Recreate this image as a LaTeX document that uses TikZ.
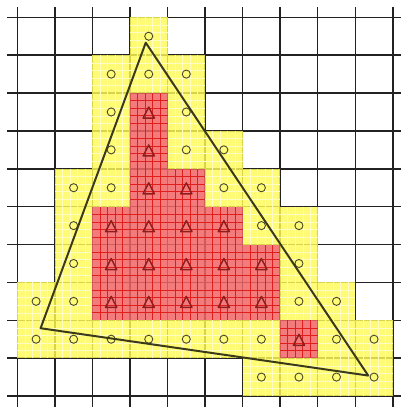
\documentclass[tikz,border=0pt]{standalone}
\usepackage{tikz}
\definecolor{Ink}{HTML}{222222}
\definecolor{Lemon}{HTML}{FFFA55}
\definecolor{Coral}{HTML}{F26464}
\definecolor{Crimson}{HTML}{E01E1E}
\definecolor{Maroon}{HTML}{8C1E1E}
\definecolor{Olive}{HTML}{4C4A22}
\definecolor{Edge}{HTML}{3A3A1A}

\begin{document}
\begin{tikzpicture}[x=1cm,y=-1.0085cm,
    gridline/.style={Ink,line width=1.1pt},
    coverbox/.style={fill=Lemon,fill opacity=.82},
    hitbox/.style={fill=Coral,fill opacity=.85},
    covertex/.style={Lemon!35!white,line width=.3pt},
    hittex/.style={Crimson,line width=.45pt},
    dotmark/.style={Olive,line width=.7pt},
    tipmark/.style={Maroon,line width=1.1pt,line join=round}]
    \useasboundingbox (-0.461,-0.457) rectangle (10.218,10.29);
    % pixel grid
    \foreach \i in {0,...,10} {
      \draw[gridline] (\i,-0.27) -- (\i,10.29);
      \draw[gridline] (-0.27,\i) -- (10.218,\i);
    }
    % cells touched by the triangle
    \foreach \c/\r in {3/0,2/1,3/1,4/1,2/2,4/2,2/3,4/3,5/3,1/4,2/4,5/4,6/4,
                       1/5,6/5,7/5,1/6,7/6,0/7,1/7,7/7,8/7,
                       0/8,1/8,2/8,3/8,4/8,5/8,6/8,8/8,9/8,6/9,7/9,8/9,9/9} {
      \fill[coverbox] (\c,\r) rectangle ++(1,1);
      \foreach \k in {0.2,0.4,0.6,0.8} {
        \draw[covertex] (\c+\k,\r) -- ++(0,1);
        \draw[covertex] (\c,\r+\k) -- ++(1,0);
      }
      \draw[dotmark] (\c+.5,\r+.5) circle (.107);
    }
    % cells inside the triangle
    \foreach \c/\r in {3/2,3/3,3/4,4/4,2/5,3/5,4/5,5/5,2/6,3/6,4/6,5/6,6/6,
                       2/7,3/7,4/7,5/7,6/7,7/8} {
      \fill[hitbox] (\c,\r) rectangle ++(1,1);
      \foreach \k in {0.2,0.4,0.6,0.8} {
        \draw[hittex] (\c+\k,\r) -- ++(0,1);
        \draw[hittex] (\c,\r+\k) -- ++(1,0);
      }
      \draw[tipmark] (\c+.5,\r+.37) -- (\c+.65,\r+.66) -- (\c+.35,\r+.66) -- cycle;
    }
    % the triangle
    \coordinate (apex) at (3.42,0.67);
    \coordinate (west) at (0.62,8.21);
    \coordinate (east) at (9.345,9.46);
    \draw[Edge,line width=1.5pt,line join=round] (apex) -- (west) -- (east) -- cycle;
  \end{tikzpicture}
\end{document}
